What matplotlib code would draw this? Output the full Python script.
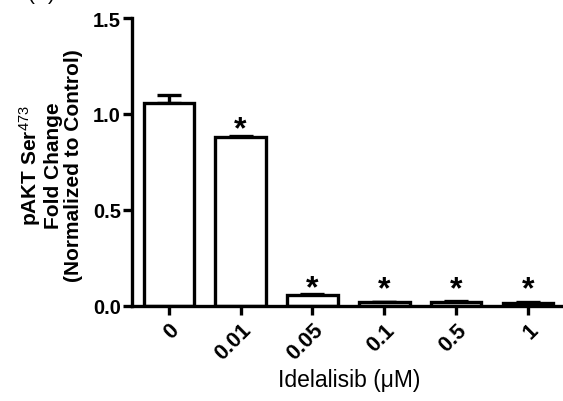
import matplotlib
matplotlib.use("Agg")
import matplotlib.pyplot as plt
import numpy as np

plt.rcParams['font.family'] = ['Liberation Sans', 'DejaVu Sans']
plt.rcParams['mathtext.fontset'] = 'custom'
plt.rcParams['mathtext.rm'] = 'Liberation Sans'
plt.rcParams['mathtext.it'] = 'Liberation Sans:italic'
plt.rcParams['mathtext.bf'] = 'Liberation Sans:bold'

# 数据
doses = ["0", "0.01", "0.05", "0.1", "0.5", "1"]
fold_change = [1.055, 0.878, 0.059, 0.020, 0.022, 0.018]
err_up = [0.045, 0.010, 0.003, 0.002, 0.002, 0.002]
significant = [False, True, True, True, True, True]

fig = plt.figure(figsize=(5.63, 4.02), dpi=100)
ax = fig.add_axes([132/563, 95/402, 430/563, 288/402])

x = np.arange(len(doses))
ax.bar(x, fold_change, width=0.7, color='white', edgecolor='black', linewidth=2.4, zorder=2)
ax.errorbar(x, fold_change, yerr=[np.zeros(len(x)), err_up], fmt='none',
            ecolor='black', elinewidth=2.4, capsize=8.5, capthick=2.4, zorder=1)

# 星号
for xi, v, e, s in zip(x, fold_change, err_up, significant):
    if s:
        ax.text(xi, max(v + e, 0.055) - 0.01, "*", ha='center', va='baseline',
                fontsize=23, fontweight='bold')

ax.set_xlim(-0.51, 5.47)
ax.set_ylim(0, 1.5)
ax.set_yticks([0, 0.5, 1.0, 1.5])
ax.set_yticklabels(["0.0", "0.5", "1.0", "1.5"], fontsize=14.5, fontweight='bold')
ax.set_xticks(x)
ax.set_xticklabels(doses, fontsize=15.5, fontweight='bold', rotation=45,
                   ha='right', va='top', rotation_mode='anchor')

for side in ['top', 'right']:
    ax.spines[side].set_visible(False)
for side in ['left', 'bottom']:
    ax.spines[side].set_linewidth(2.4)
ax.tick_params(axis='both', width=2.4, length=6.5, pad=1.5, colors='black')
ax.tick_params(axis='x', pad=3)

ax.set_ylabel("pAKT Ser$^{\\mathrm{473}}$\nFold Change\n(Normalized to Control)",
              fontsize=15, fontweight='bold', linespacing=1.05)
ax.yaxis.set_label_coords(-0.115, 0.49)
ax.set_xlabel("Idelalisib (\u03bcM)", fontsize=16.5)
ax.xaxis.set_label_coords(0.505, -0.215)

fig.text(28/563, 1.0, "(B)", fontsize=15, ha='left', va='baseline')

plt.savefig("out.png", dpi=100)
plt.close()
